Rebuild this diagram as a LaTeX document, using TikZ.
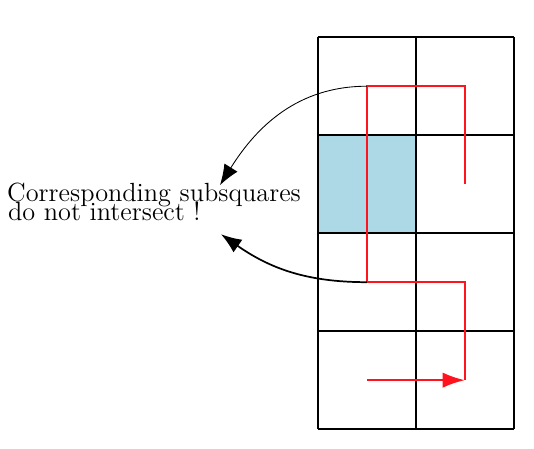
\documentclass[tikz,border=0pt]{standalone}
\usepackage{tikz}
\usepackage{xcolor}
\usetikzlibrary{positioning,arrows.meta,calc}
\definecolor{cellblue}{RGB}{173,216,230}
\definecolor{curvered}{RGB}{255,20,30}

\begin{document}
\begin{tikzpicture}[
        gridline/.style={line width=1.3pt, draw=black},
        subsq/.style={fill=cellblue, draw=black, line width=0.5pt},
        curve/.style={line width=1.2pt, draw=curvered},
        curvearr/.style={curve, -{Latex[length=13pt,width=9pt]}},
        note/.style={font=\Large, anchor=base west, inner sep=0pt, scale=1.06, transform shape},
        thinarr/.style={-{Latex[length=12pt,width=9pt]}, line width=0.5pt},
        thickarr/.style={-{Latex[length=12pt,width=9pt]}, line width=1pt}
      ]
        \useasboundingbox (-6.49,-0.39) rectangle (4.41,8.76);
        \draw[subsq] (0,4) rectangle (2,6);
        \draw[gridline,step=2] (0,0) grid (4,8);
        \coordinate (top)  at (1,7);
        \coordinate (bot)  at (1,3);
        \coordinate (end)  at (3,1);
        \draw[curve] (3,5) -- (3,7) -- (top) -- (bot) -- (3,3) -- (end);
        \draw[curvearr] (1,1) -- (end);
        \node[note] (txt1) at (-6.35,4.64) {Corresponding subsquares};
        \node[note] (txt2) at (-6.33,4.25) {do not intersect !};
        \coordinate (tiptop) at (-2.0,4.98);
        \coordinate (tipbot) at (-1.98,3.98);
        \draw[thinarr] (top) to[out=180,in=58] (tiptop);
        \draw[thickarr] (bot) to[out=180,in=-35] (tipbot);
      \end{tikzpicture}
\end{document}
